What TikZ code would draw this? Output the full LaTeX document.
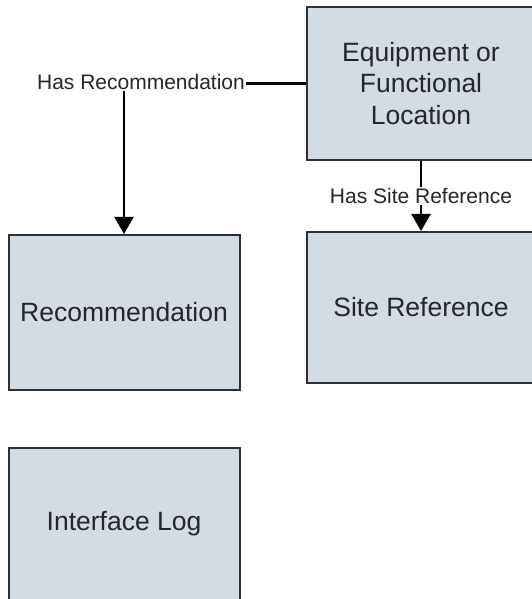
\documentclass[tikz,border=0pt]{standalone}
\usepackage{fontspec}
\setmainfont{Liberation Sans}
\usepackage{tikz}
\usetikzlibrary{arrows.meta,positioning}
\definecolor{boxfill}{RGB}{211,220,229}
\definecolor{boxline}{RGB}{48,48,48}
\definecolor{txtgrey}{RGB}{38,38,38}

\begin{document}
\begin{tikzpicture}[x=1pt,y=1pt,
  entity/.style={draw=boxline,fill=boxfill,line width=2pt,text=txtgrey,align=center,
    font=\fontsize{26.5}{31.5}\selectfont,inner sep=0pt},
  rellabel/.style={fill=white,text=txtgrey,font=\fontsize{21}{24}\selectfont,inner sep=1pt},
  conn/.style={line width=2.2pt,-{Triangle[length=17pt,width=19pt]}}]
\useasboundingbox (0,0) rectangle (532,599);
\clip (0,0) rectangle (532,599);
% ---------- the entity boxes ----------
\node[entity,minimum width=228pt,minimum height=153pt] (equip) at (421,515.5)
  {Equipment or\\Functional\\Location};
\node[entity,minimum width=231pt,minimum height=155pt] (recom) at (124,286.5) {Recommendation};
\node[entity,minimum width=228pt,minimum height=151pt] (siteref) at (421,291.5) {Site Reference};
\node[entity,minimum width=231pt,minimum height=152pt] (iflog) at (124,75) {Interface Log};
% ---------- relationships ----------
\draw[conn] (equip.west) -| (recom.north);
\node[rellabel] (hasrec) at (141,516.5) {Has Recommendation};
\draw[conn] (equip.south) -- (siteref.north)
  node[rellabel,midway] (hassite) {Has Site Reference};
\end{tikzpicture}
\end{document}
